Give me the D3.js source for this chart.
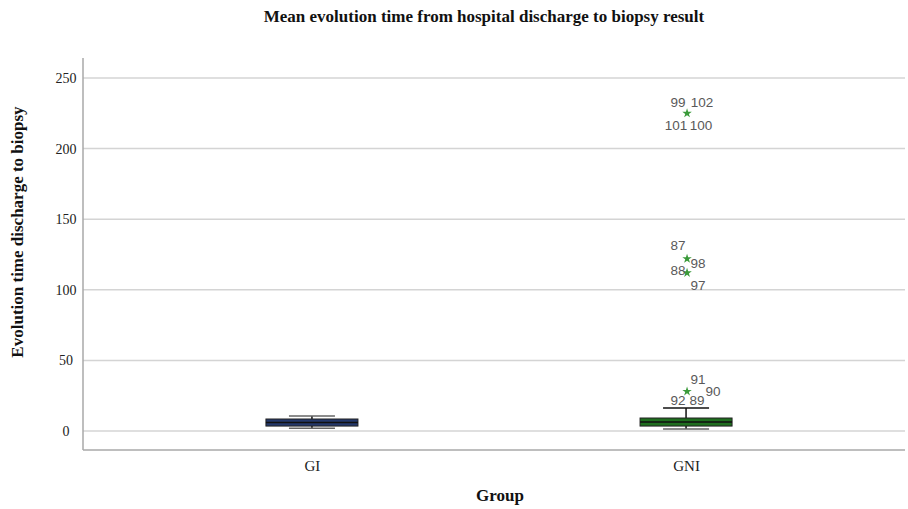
<!DOCTYPE html>
<html><head><meta charset="utf-8">
<script src="https://d3js.org/d3.v7.min.js"></script>
<style>body{margin:0;background:#fff}svg{display:block}</style>
</head><body><svg id="c" width="908" height="509"></svg>
<script>
const categories = ["GI", "GNI"];
const whiskerLow = [2, 1.5];
const q1 = [3.5, 3.5];
const median = [6, 6.3];
const q3 = [8.5, 9.2];
const whiskerHigh = [10.7, 16.3];
const boxColors = ["#24386b", "#1f6e1f"];
const yTicks = [0, 50, 100, 150, 200, 250];
// outliers (GNI group): case id, value, marker kind
const outlierIds =    ["99", "102", "101", "100", "87", "98", "88", "97", "91", "90", "92", "89"];
const outlierValues = [225, 225, 225, 225, 122, 122, 112, 112, 28, 28, 17, 17];
const outlierKind =   ["x", "x", "x", "x", "x", "x", "x", "x", "x", "x", "m", "m"];
// label placement around marker (layout only)
const labelDx = [-9, 15, -11, 14, -9, 11, -9, 11, 11, 26, -9, 10];
const labelDy = [-11, -11, 12, 12, -13, 5, -2, 13, -12, 0, -6, -6];

const svg = d3.select("#c");
const L = 83, R = 905, T = 58, B = 450;
const y = d3.scaleLinear().domain([0, 250]).range([431, 78]);
const x = d3.scalePoint().domain(categories).range([80, 918]).padding(0.62);

// gridlines
svg.append("g").selectAll("line").data(yTicks).join("line")
  .attr("x1", L).attr("x2", R).attr("y1", d => y(d)).attr("y2", d => y(d))
  .attr("stroke", "#d4d4d4").attr("stroke-width", 1.5);

// axes
const yAxis = d3.axisLeft(y).tickValues(yTicks).tickSize(0).tickPadding(0);
const gy = svg.append("g").attr("transform", `translate(${L},0)`).call(yAxis);
gy.select(".domain").remove();
gy.selectAll("text").attr("x", -17).attr("text-anchor", "middle").attr("dy", "0.32em")
  .style("font-family", "'Liberation Serif', serif").style("font-size", "14px").attr("fill", "#222");
svg.append("line").attr("x1", L).attr("x2", L).attr("y1", T).attr("y2", B).attr("stroke", "#a8a8a8").attr("stroke-width", 1.5);
svg.append("line").attr("x1", L).attr("x2", R).attr("y1", B).attr("y2", B).attr("stroke", "#a8a8a8").attr("stroke-width", 1.5);

const xAxis = d3.axisBottom(x).tickSize(0).tickPadding(0);
const gx = svg.append("g").attr("transform", `translate(0,${B})`).call(xAxis);
gx.select(".domain").remove();
gx.selectAll("text").attr("y", 16).attr("dy", "0.32em")
  .style("font-family", "'Liberation Serif', serif").style("font-size", "15px").attr("fill", "#222");

// boxes
const bw = 92, cw = 46;
categories.forEach((c, i) => {
  const cx = x(c);
  const g = svg.append("g");
  g.append("line").attr("x1", cx).attr("x2", cx).attr("y1", y(whiskerHigh[i])).attr("y2", y(whiskerLow[i]))
    .attr("stroke", "#111").attr("stroke-width", 1.5);
  [whiskerHigh[i], whiskerLow[i]].forEach((v, k) => {
    g.append("line").attr("x1", cx - cw / 2).attr("x2", cx + cw / 2).attr("y1", y(v)).attr("y2", y(v))
      .attr("stroke", i === 1 && k === 0 ? "#111" : "#666").attr("stroke-width", 1.5);
  });
  g.append("rect").attr("x", cx - bw / 2).attr("width", bw)
    .attr("y", y(q3[i])).attr("height", y(q1[i]) - y(q3[i]))
    .attr("fill", boxColors[i]).attr("stroke", "#222").attr("stroke-width", 1);
  g.append("line").attr("x1", cx - bw / 2).attr("x2", cx + bw / 2).attr("y1", y(median[i])).attr("y2", y(median[i]))
    .attr("stroke", "#111").attr("stroke-width", 1.5);
});

// outliers
const gcx = x("GNI") + 1;
const star = d3.symbol().type(d3.symbolStar).size(28);
const drawn = new Set();
outlierValues.forEach((v, i) => {
  const key = v;
  if (outlierKind[i] === "x" && !drawn.has(key)) {
    drawn.add(key);
    svg.append("path").attr("d", star).attr("transform", `translate(${gcx},${y(v)})`).attr("fill", "#3a9a3a");
  }
  svg.append("text").attr("x", gcx + labelDx[i]).attr("y", y(v) + labelDy[i])
    .attr("text-anchor", "middle").attr("dy", "0.32em")
    .style("font-family", "'Liberation Sans', Arial, sans-serif").style("font-size", "13.5px")
    .attr("fill", "#595959").text(outlierIds[i]);
});

// titles
const bold = sel => sel.style("font-family", "'Liberation Serif', serif").style("font-size", "17px")
  .style("font-weight", "bold").attr("fill", "#111").attr("text-anchor", "middle");
svg.append("text").attr("x", 484).attr("y", 22).call(bold)
  .text("Mean evolution time from hospital discharge to biopsy result");
svg.append("text").attr("x", 500).attr("y", 501).call(bold).text("Group");
svg.append("text").attr("transform", "translate(23,232) rotate(-90)").call(bold)
  .text("Evolution time discharge to biopsy");
</script></body></html>
